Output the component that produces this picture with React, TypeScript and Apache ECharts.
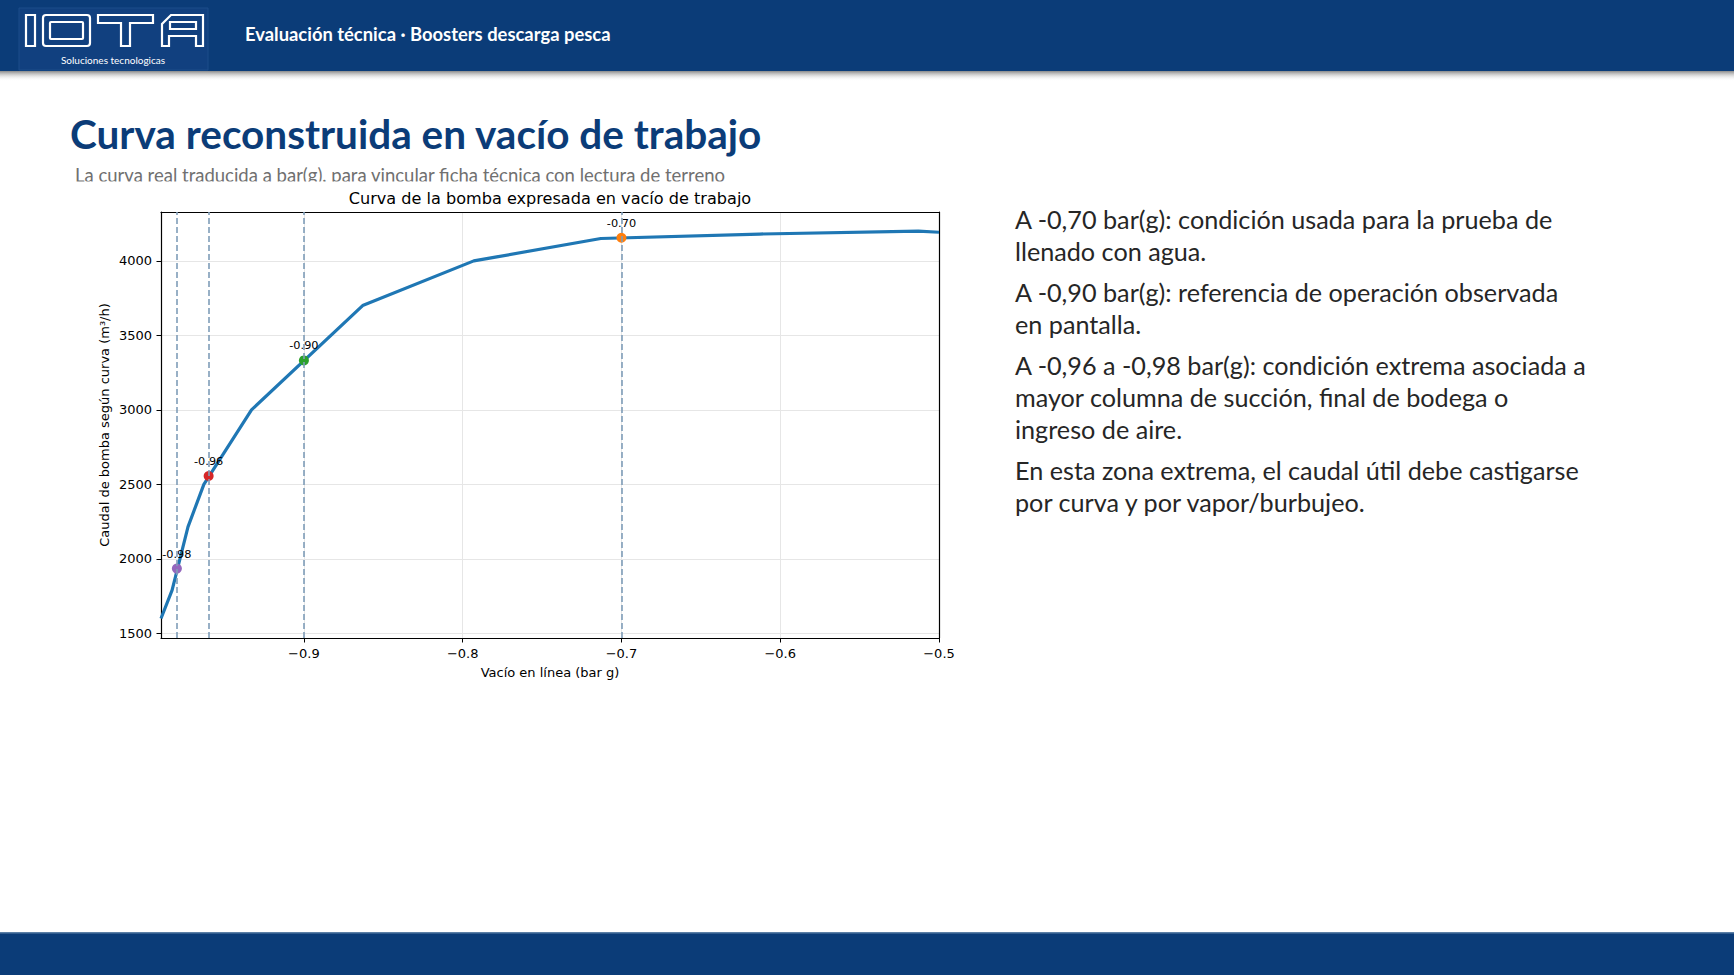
import React, { useEffect, useRef } from "react";
import * as echarts from "echarts";

// ---- data ----
const curveX = [-0.99, -0.983, -0.973, -0.963, -0.933, -0.863, -0.793, -0.713, -0.613, -0.513, -0.5];
const curveY = [1600, 1790, 2215, 2500, 3000, 3700, 4000, 4150, 4180, 4200, 4192];
const markerX = [-0.7, -0.9, -0.96, -0.98];
const markerY = [4155, 3332, 2556, 1935];
const markerLabels = ["-0.70", "-0.90", "-0.96", "-0.98"];
const markerColors = ["#ff7f0e", "#2ca02c", "#d62728", "#9467bd"];
const refLines = [-0.98, -0.96, -0.9, -0.7];
const xTicks = [-0.9, -0.8, -0.7, -0.6, -0.5];
const yTicks = [1500, 2000, 2500, 3000, 3500, 4000];

const headerText = "Evaluación técnica · Boosters descarga pesca";
const slideTitle = "Curva reconstruida en vacío de trabajo";
const slideSubtitle = "La curva real traducida a bar(g), para vincular ficha técnica con lectura de terreno";
const chartTitle = "Curva de la bomba expresada en vacío de trabajo";
const xName = "Vacío en línea (bar g)";
const yName = "Caudal de bomba según curva (m³/h)";
const notes: string[][] = [
  ["A -0,70 bar(g): condición usada para la prueba de", "llenado con agua."],
  ["A -0,90 bar(g): referencia de operación observada", "en pantalla."],
  ["A -0,96 a -0,98 bar(g): condición extrema asociada a", "mayor columna de succión, final de bodega o", "ingreso de aire."],
  ["En esta zona extrema, el caudal útil debe castigarse", "por curva y por vapor/burbujeo."],
];

const NAVY = "#0b3c78";
const MPL = "DejaVu Sans";
const SLIDE = "Lato";

export default function App() {
  const ref = useRef<HTMLDivElement>(null);
  useEffect(() => {
    if (!ref.current) return;
    const chart = echarts.init(ref.current, undefined, { renderer: "svg" });

    const noteEls: any[] = [];
    let y = 219;
    notes.forEach((para) => {
      para.forEach((line) => {
        noteEls.push({
          type: "text",
          style: { text: line, x: 1015, y, fill: "#262626", fontFamily: SLIDE, fontSize: 25.2, align: "left", verticalAlign: "middle" },
        });
        y += 32;
      });
      y += 9;
    });

    const logoStroke = { fill: "none", stroke: "#ffffff", lineWidth: 2.2 };

    const boxAxis = (extra: any) => ({
      type: "value",
      axisLine: { show: true, lineStyle: { color: "#000", width: 1.2 } },
      axisTick: { show: false },
      axisLabel: { show: false },
      splitLine: { show: false },
      ...extra,
    });

    const option: any = {
      animation: false,
      backgroundColor: "#ffffff",
      graphic: [
        // header
        { type: "rect", z: -10, shape: { x: 0, y: 71, width: 1734, height: 10 }, style: { fill: new echarts.graphic.LinearGradient(0, 0, 0, 1, [{ offset: 0, color: "#8a8a8a" }, { offset: 1, color: "rgba(255,255,255,0)" }]) } },
        { type: "rect", z: -10, shape: { x: 0, y: 0, width: 1734, height: 71 }, style: { fill: NAVY } },
        { type: "rect", z: -10, shape: { x: 19, y: 8, width: 189, height: 62 }, style: { fill: "#11407f", stroke: "#1d4c8a", lineWidth: 1 } },
        { type: "rect", z: -10, shape: { x: 26, y: 15, width: 9, height: 31 }, style: logoStroke },
        { type: "rect", z: -10, shape: { x: 43, y: 15, width: 47, height: 31, r: 3 }, style: logoStroke },
        { type: "rect", z: -10, shape: { x: 50, y: 22, width: 33, height: 17, r: 1 }, style: logoStroke },
        { type: "polygon", z: -10, shape: { points: [[98, 15], [153, 15], [153, 23], [130, 23], [130, 46], [121, 46], [121, 23], [98, 23]] }, style: logoStroke },
        { type: "polygon", z: -10, shape: { points: [[162, 46], [162, 24], [171, 15], [203, 15], [203, 46], [196, 46], [196, 36], [169, 36], [169, 46]] }, style: logoStroke },
        { type: "rect", z: -10, shape: { x: 170, y: 22, width: 26, height: 7 }, style: logoStroke },
        { type: "text", z: -10, style: { text: "Soluciones tecnologicas", x: 113, y: 60, fill: "#ffffff", fontFamily: SLIDE, fontSize: 10, align: "center", verticalAlign: "middle" } },
        { type: "text", z: -10, style: { text: headerText, x: 245, y: 34, fill: "#ffffff", fontFamily: SLIDE, fontWeight: "bold", fontSize: 18.4, align: "left", verticalAlign: "middle" } },
        // slide title
        { type: "text", z: -10, style: { text: slideTitle, x: 70, y: 133, fill: "#0b3c78", fontFamily: SLIDE, fontWeight: "bold", fontSize: 40.5, align: "left", verticalAlign: "middle" } },
        { type: "text", z: -10, style: { text: slideSubtitle, x: 75, y: 174.5, fill: "#707070", fontFamily: SLIDE, fontSize: 18.5, align: "left", verticalAlign: "middle" } },
        // chart image background (clips subtitle)
        { type: "rect", z: -9, shape: { x: 60, y: 181.5, width: 910, height: 520 }, style: { fill: "#ffffff" } },
        { type: "text", z: -9, style: { text: chartTitle, x: 550, y: 198, fill: "#000000", fontFamily: MPL, fontSize: 16.1, align: "center", verticalAlign: "middle" } },
        ...noteEls.map((e) => ({ ...e, z: -9 })),
        // footer
        { type: "rect", z: -9, shape: { x: 0, y: 933, width: 1734, height: 42 }, style: { fill: NAVY } },
        { type: "rect", z: -9, shape: { x: 0, y: 932, width: 1734, height: 1.5 }, style: { fill: "#5b7fa6" } },
      ],
      grid: { left: 161, top: 212, width: 778, height: 426, containLabel: false },
      xAxis: [
        {
          type: "value",
          min: -0.99,
          max: -0.5,
          axisLine: { show: true, lineStyle: { color: "#000", width: 1.2 } },
          axisTick: { show: true, inside: false, length: 4.5, lineStyle: { color: "#000", width: 1 }, customValues: xTicks },
          axisLabel: { customValues: xTicks, color: "#000", fontFamily: MPL, fontSize: 13, margin: 9, formatter: (v: number) => v.toFixed(1).replace("-", "−") },
          splitLine: { show: true, lineStyle: { color: "#e6e6e6", width: 1 } },
          name: xName,
          nameLocation: "middle",
          nameGap: 28,
          nameTextStyle: { color: "#000", fontFamily: MPL, fontSize: 13 },
        },
        boxAxis({ position: "top", min: -0.99, max: -0.5 }),
      ],
      yAxis: [
        {
          type: "value",
          min: 1469,
          max: 4328,
          axisLine: { show: true, lineStyle: { color: "#000", width: 1.2 } },
          axisTick: { show: true, inside: false, length: 4.5, lineStyle: { color: "#000", width: 1 }, customValues: yTicks },
          axisLabel: { customValues: yTicks, color: "#000", fontFamily: MPL, fontSize: 13, margin: 9, formatter: (v: number) => String(Math.round(v)) },
          splitLine: { show: true, lineStyle: { color: "#e6e6e6", width: 1 } },
          name: yName,
          nameLocation: "middle",
          nameGap: 50,
          nameTextStyle: { color: "#000", fontFamily: MPL, fontSize: 13 },
        },
        boxAxis({ position: "right", min: 1469, max: 4328 }),
      ],
      series: [
        {
          type: "line",
          data: curveX.map((x, i) => [x, curveY[i]]),
          showSymbol: false,
          symbol: "none",
          lineStyle: { color: "#1f77b4", width: 3.2 },
          clip: true,
          z: 2,
          silent: true,
          markLine: {
            silent: true,
            symbol: ["none", "none"],
            label: { show: false },
            lineStyle: { color: "#7f9db8", width: 1.6, type: [6, 3] },
            data: refLines.map((x) => ({ xAxis: x })),
          },
        },
        {
          type: "scatter",
          symbolSize: 10,
          z: 4,
          silent: true,
          data: markerX.map((x, i) => ({
            value: [x, markerY[i]],
            name: markerLabels[i],
            itemStyle: { color: markerColors[i], opacity: 1 },
          })),
          label: {
            show: true,
            position: "top",
            distance: 4,
            formatter: (p: any) => p.name,
            color: "#000",
            fontFamily: MPL,
            fontSize: 11.3,
          },
        },
      ],
    };
    chart.setOption(option);
    return () => chart.dispose();
  }, []);
  return <div ref={ref} style={{ position: "fixed", left: 0, top: 0, width: 1734, height: 975 }} />;
}
